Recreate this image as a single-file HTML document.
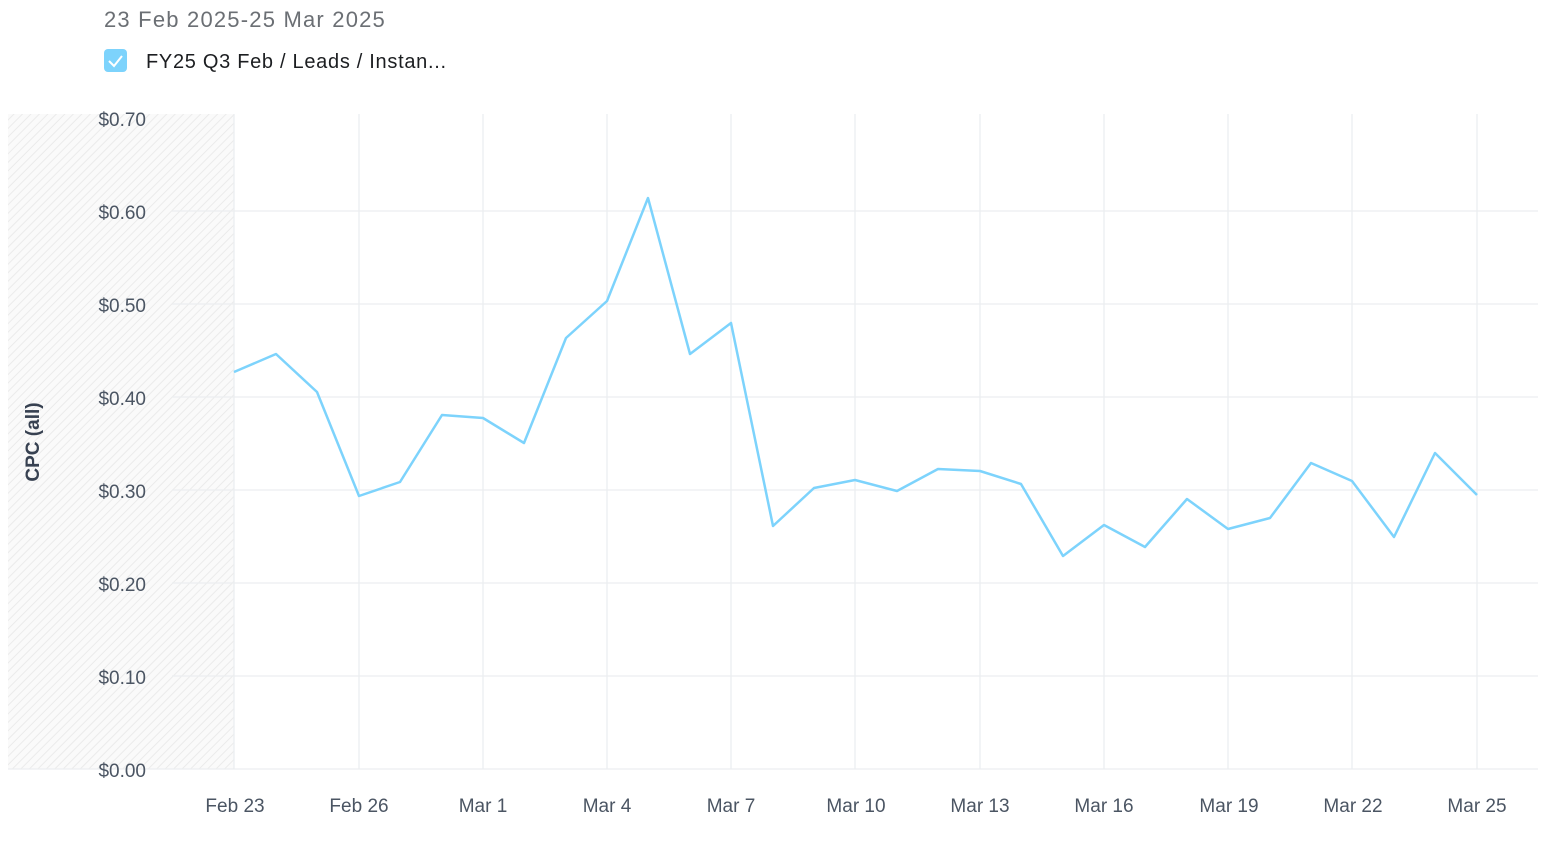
<!DOCTYPE html>
<html><head><meta charset="utf-8"><style>
html,body{margin:0;padding:0;background:#fff;width:1552px;height:862px;overflow:hidden}
</style></head><body>
<svg width="1552" height="862" xmlns="http://www.w3.org/2000/svg" font-family="Liberation Sans, sans-serif">
<defs>
<pattern id="h" width="6" height="6" patternUnits="userSpaceOnUse" patternTransform="rotate(45)">
<rect width="6" height="6" fill="#fafafa"/><line x1="0" y1="0" x2="0" y2="6" stroke="#ebebeb" stroke-width="2"/>
</pattern>
</defs>
<text x="104" y="27" font-size="22" letter-spacing="1.2" fill="#6b6f74">23 Feb 2025-25 Mar 2025</text>
<rect x="104" y="49" width="23" height="23" rx="4" fill="#7dd3fc"/>
<path d="M109 61 L114 66 L122 56" stroke="#fff" stroke-width="2" fill="none"/>
<text x="146" y="68" font-size="20" letter-spacing="0.7" fill="#1c1e21">FY25 Q3 Feb / Leads / Instan...</text>
<rect x="8" y="114" width="226" height="655" fill="url(#h)"/>
<g stroke="#eceef0" stroke-width="1.3">
<line x1="172" y1="211" x2="1538" y2="211"/><line x1="172" y1="304" x2="1538" y2="304"/>
<line x1="172" y1="397" x2="1538" y2="397"/><line x1="172" y1="490" x2="1538" y2="490"/>
<line x1="172" y1="583" x2="1538" y2="583"/><line x1="172" y1="676" x2="1538" y2="676"/>
<line x1="8" y1="769" x2="1538" y2="769"/>
<line x1="234" y1="114" x2="234" y2="769"/><line x1="359" y1="114" x2="359" y2="769"/>
<line x1="483" y1="114" x2="483" y2="769"/><line x1="607" y1="114" x2="607" y2="769"/>
<line x1="731" y1="114" x2="731" y2="769"/><line x1="855" y1="114" x2="855" y2="769"/>
<line x1="980" y1="114" x2="980" y2="769"/><line x1="1104" y1="114" x2="1104" y2="769"/>
<line x1="1228" y1="114" x2="1228" y2="769"/><line x1="1352" y1="114" x2="1352" y2="769"/>
<line x1="1477" y1="114" x2="1477" y2="769"/>
</g>
<g font-size="19" fill="#4b5563" text-anchor="end">
<text x="146" y="126">$0.70</text><text x="146" y="219">$0.60</text><text x="146" y="312">$0.50</text>
<text x="146" y="405">$0.40</text><text x="146" y="498">$0.30</text><text x="146" y="591">$0.20</text>
<text x="146" y="684">$0.10</text><text x="146" y="777">$0.00</text>
</g>
<text transform="translate(39,442) rotate(-90)" font-size="19" font-weight="bold" fill="#374151" text-anchor="middle">CPC (all)</text>
<g font-size="19" fill="#4b5563" text-anchor="middle">
<text x="235" y="812">Feb 23</text><text x="359" y="812">Feb 26</text><text x="483" y="812">Mar 1</text>
<text x="607" y="812">Mar 4</text><text x="731" y="812">Mar 7</text><text x="856" y="812">Mar 10</text>
<text x="980" y="812">Mar 13</text><text x="1104" y="812">Mar 16</text><text x="1229" y="812">Mar 19</text>
<text x="1353" y="812">Mar 22</text><text x="1477" y="812">Mar 25</text>
</g>
<polyline fill="none" stroke="#7dd3fc" stroke-width="2.5" stroke-linejoin="round" points="234,372 276,354 317,392 359,496 400,482 442,415 483,418 524,443 566,338 607,301 648,198 690,354 731,323 773,526 814,488 855,480 897,491 938,469 980,471 1021,484 1063,556 1104,525 1145,547 1187,499 1228,529 1270,518 1311,463 1352,481 1394,537 1435,453 1477,495"/>
</svg>
</body></html>
